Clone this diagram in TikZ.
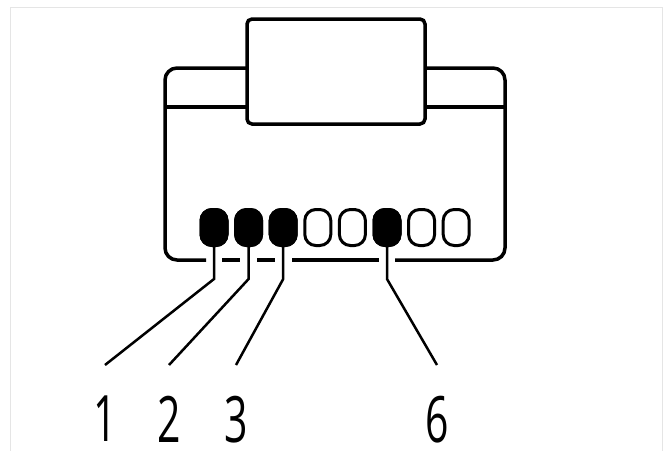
\documentclass[tikz,border=0pt]{standalone}
\usepackage{fontspec}
\setmainfont{Open Sans}
\newcommand{\pinnum}[1]{\scalebox{0.64}[1]{\fontsize{64}{64}\selectfont #1}}
\begin{document}
\begin{tikzpicture}[x=1pt,y=-1pt,
      housing/.style={line width=3.5pt},
      contact/.style={rectangle,draw,rounded corners=11pt,line width=3pt,
        minimum width=26pt,minimum height=36pt,inner sep=0pt},
      wire/.style={line width=2.5pt},
      number/.style={anchor=north,inner sep=0pt}]
      \useasboundingbox (0,0) rectangle (667,451);
      % frame
      \draw[gray!20,line width=1pt] (10,451) -- (10,7) -- (662,7) -- (662,451);
      % housing
      \draw[housing,rounded corners=12pt] (247,68) -- (165,68) -- (165,260) -- (206,260);
      \draw[housing,rounded corners=12pt] (395,260) -- (505,260) -- (505,68) -- (425,68);
      \draw[housing] (222,260) -- (240,260) (257,260) -- (275,260) (292,260) -- (379,260);
      \draw[housing] (165,107) -- (247,107) (425,107) -- (505,107);
      \draw[housing,fill=white,rounded corners=5pt] (247,19) rectangle (425,124);
      % contacts
      \foreach \i in {1,...,8}
        \node[contact] (p\i) at (214+34.6*\i-34.6,227.5) {};
      \foreach \i in {1,2,3,6}
        \node[contact,fill=black] at (p\i) {};
      % numbers and wires
      \foreach \i/\x in {1/105,2/169,3/236,6/437} {
        \node[number] (l\i) at (\x,396) {\pinnum{\i}};
        \coordinate (b\i) at (p\i.south |- 0,279);
        \draw[wire] (p\i.south) -- (b\i) -- ([yshift=31pt]l\i.north);
      }
\end{tikzpicture}
\end{document}
